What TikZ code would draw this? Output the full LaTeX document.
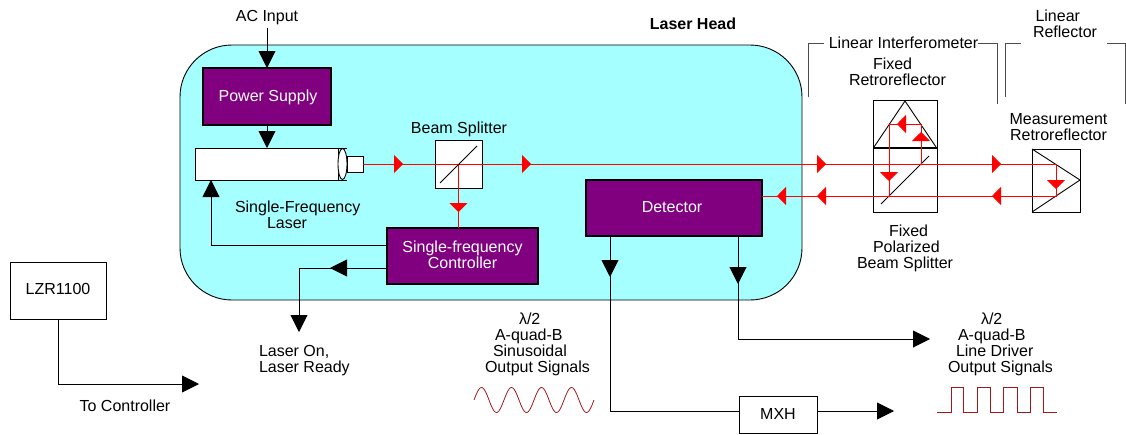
\documentclass[tikz,border=0pt]{standalone}
\usepackage{fontspec}
\setmainfont{Liberation Sans}
\usepackage{xcolor}
\usetikzlibrary{arrows.meta,decorations.markings,shapes.geometric}
\definecolor{headcyan}{HTML}{A6FFFF}
\definecolor{boxpurple}{HTML}{800080}
\definecolor{signalred}{HTML}{A01818}
\tikzset{
	every node/.style={font=\fontsize{16}{16}\selectfont, inner sep=0pt, outer sep=0pt},
	wire/.style={draw=black, line width=0.9pt},
	beam/.style={draw=red, fill=none, line width=0.9pt},
	bracket/.style={draw=black!70, line width=0.9pt},
	signal/.style={draw=signalred, line width=0.8pt},
	whitebox/.style={draw=black, fill=white, line width=0.9pt},
	purplebox/.style={draw=black, fill=boxpurple, text=white, line width=1.2pt},
	blacktip/.style={-{Triangle[length=17pt,width=17pt]}},
	blackat/.style={postaction={decorate,decoration={markings,mark=at position #1 with {\arrow{Triangle[length=17pt,width=17pt]}}}}},
	redat/.style={postaction={decorate,decoration={markings,mark=at position #1 with {\arrow[red]{Triangle[length=9pt,width=18pt]}}}}}
}

\begin{document}
\begin{tikzpicture}[x=1pt,y=-1pt]
	\useasboundingbox (0,0) rectangle (1126,434);

	% Laser head housing
	\node[draw=black, fill=headcyan, line width=0.9pt, rounded corners=52pt, minimum width=622pt, minimum height=255pt] (head) at (491,172.5) {};
	\node[font=\fontsize{16}{16}\selectfont\bfseries] (headlabel) at (693,24) {Laser Head};

	% Boxes inside the head
	\node[purplebox, minimum width=128pt, minimum height=57pt] (power) at (267,96.5) {};
	\node[text=white] (powerlabel) at (268,97) {Power Supply};
	\node[whitebox, minimum width=143pt, minimum height=32pt] (laser) at (266.5,164) {};
	\node[whitebox, minimum width=16pt, minimum height=16pt] (nozzle) at (355,164) {};
	\node[whitebox, ellipse, minimum width=9pt, minimum height=31pt] (lens) at (342.5,164) {};
	\draw[wire] (laser.north east) -- ++(9,0);
	\draw[wire] (laser.south east) -- ++(9,0);
	\node[whitebox, minimum width=47pt, minimum height=48pt] (splitter) at (458.5,164) {};
	\node[purplebox, minimum width=151pt, minimum height=56pt] (ctrl) at (462.5,256) {};
	\node[text=white, align=center] (ctrllabel) at (462.5,255) {Single-frequency\\Controller};
	\node[purplebox, minimum width=176pt, minimum height=56pt] (detector) at (674,208) {};
	\node[text=white] (detlabel) at (672,207) {Detector};

	% Optics outside the head
	\node[whitebox, minimum width=64pt, minimum height=48pt] (fixedretro) at (905,124) {};
	\node[whitebox, minimum width=64pt, minimum height=64pt] (fixedsplit) at (905,180) {};
	\node[whitebox, minimum width=48pt, minimum height=63pt] (measretro) at (1056,180.5) {};
	\draw[line width=2pt] (fixedretro.south west) -- (fixedretro.south east);
	\draw[wire] (874,147) -- (905,101) -- (936,147);
	\draw[wire] (1032,149) -- (1080,180) -- (1032,212);
	\draw[wire] (881,204) -- (929,156);

	% Lower boxes
	\node[whitebox, minimum width=96pt, minimum height=57pt] (lzr) at (58,290.5) {\raisebox{3.5pt}{LZR1100}};
	\node[whitebox, minimum width=78pt, minimum height=37pt] (mxh) at (778,414.5) {\raisebox{2pt}{MXH}};

	% Free ends
	\coordinate (retrotop) at (1056,164);
	\coordinate (retrobot) at (1056,196);
	\coordinate (pbstop) at (921,164);
	\coordinate (pbsbot) at (889,196);
	\coordinate (ready) at (299,332);
	\coordinate (drvend) at (930,339);
	\coordinate (mxhend) at (894,411);
	\coordinate (lzrend) at (199,384);

	% Red beams
	\draw[beam, redat=40pt, redat=168pt, redat=463pt, redat=638pt, redat=718pt, redat=789pt, redat=964pt, redat=1004pt]
		(nozzle.east) -- (retrotop) -- (retrobot) -- (detector.east |- retrobot);
	\draw[beam, redat=48pt] (splitter.center) -- (splitter.center |- ctrl.north);
	\draw[beam, redat=32pt, redat=64pt, redat=129pt] (pbstop) -- (921,124) -- (889,124) -- (pbsbot);
	\draw[wire] (440,183) -- (477,146);

	% Black connectors
	\node (acinput) at (267,17.5) {AC Input};
	\draw[wire, blacktip] ([yshift=-3pt]acinput.south) -- (power.north);
	\draw[wire, blacktip] (power.south) -- (power.south |- laser.north);
	\draw[wire, blacktip] ([yshift=11pt]ctrl.west) -| ([xshift=-55.5pt]laser.south);
	\draw[wire, blackat=57pt, blacktip] ([yshift=-12pt]ctrl.west) -| (ready);
	\draw[wire, blackat=41pt] ([xshift=-64pt]detector.south) |- ([yshift=3.5pt]mxh.west);
	\draw[wire, blacktip] ([yshift=3.5pt]mxh.east) -- (mxhend);
	\draw[wire, blackat=48pt, blacktip] ([xshift=64pt]detector.south) |- (drvend);
	\draw[wire, blacktip] (lzr.south) |- (lzrend);

	% Brackets
	\node (lif) at (903.5,43) {Linear Interferometer};
	\coordinate (lifa) at (808,97);
	\coordinate (lifb) at (997,104);
	\coordinate (lrfa) at (1005,97);
	\coordinate (lrfb) at (1125,104);
	\draw[bracket] (lifa) |- ([xshift=-5pt]lif.west);
	\draw[bracket] (lif.east) -| (lifb);
	\draw[bracket] (lrfa) |- (1021,43);
	\draw[bracket] (1107,43) -| (lrfb);

	% Labels
	\node[anchor=north west, align=left] (lrflabel) at (1033,10) {\hspace*{2.5pt}Linear\\Reflector};
	\node[anchor=north west, align=left] (fretlabel) at (849,58) {\hspace*{24pt}Fixed\\Retroreflector};
	\node[anchor=north, align=center] (measlabel) at (1058.5,113) {Measurement\\Retroreflector};
	\node (bslabel) at (459,129) {Beam Splitter};
	\node[anchor=north west, align=left] (laserlabel) at (235,201) {Single-Frequency\\\hspace*{32pt}Laser};
	\node[anchor=north west, align=left] (pbslabel) at (857,225) {\hspace*{32pt}Fixed\\\hspace*{16pt}Polarized\\Beam Splitter};
	\node[anchor=north west, align=left] (readylabel) at (259,345) {Laser On,\\Laser Ready};
	\node (tolabel) at (125,406) {To Controller};
	\node[anchor=north west, align=left] (sinlabel) at (485,313) {\hspace*{34pt}λ/2\\\hspace*{10pt}A-quad-B\\\hspace*{8pt}Sinusoidal\\Output Signals};
	\node[anchor=north west, align=left] (drvlabel) at (948,313) {\hspace*{33pt}λ/2\\\hspace*{10pt}A-quad-B\\\hspace*{8pt}Line Driver\\Output Signals};

	% Output waveforms
	\draw[signal, smooth, samples=120, domain=474:594] plot (\x,{400-12.5*sin((\x-474)*12)});
	\draw[signal] (937,412) -- (951,412) -- (951,387) -- (963,387) -- (963,412) -- (977,412) -- (977,387) -- (990,387) -- (990,412) -- (1003,412) -- (1003,387) -- (1017,387) -- (1017,412) -- (1030,412) -- (1030,387) -- (1043,387) -- (1043,412) -- (1057,412);

\end{tikzpicture}
\end{document}
